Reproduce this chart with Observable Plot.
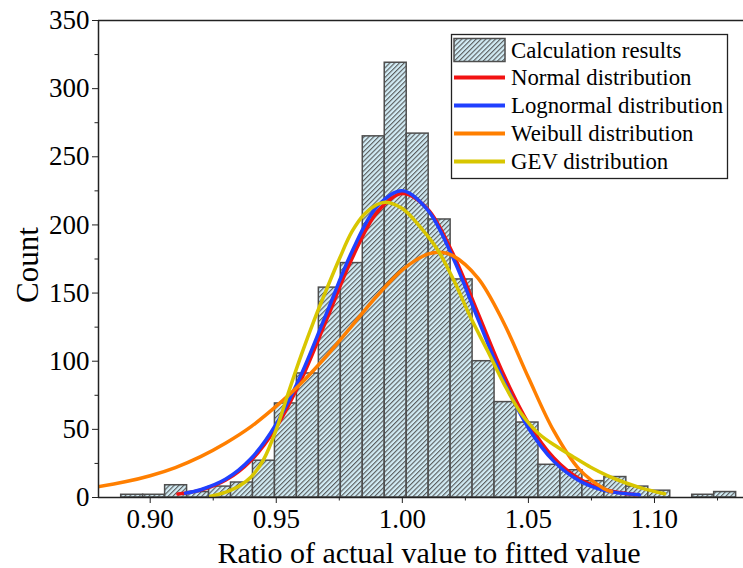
<!DOCTYPE html>
<html><head><meta charset="utf-8">
<script src="https://cdn.jsdelivr.net/npm/d3@7"></script>
<script src="https://cdn.jsdelivr.net/npm/@observablehq/plot@0.6"></script>
<style>body{margin:0;background:#fff} #chart{width:743px;height:568px}</style>
</head><body><div id="chart"></div>
<script>
// Histogram bins (edges) and counts
const binEdges = [0.88850,0.89721,0.90592,0.91463,0.92334,0.93205,0.94076,0.94947,0.95818,0.96689,0.97560,0.98431,0.99302,1.00173,1.01044,1.01915,1.02786,1.03657,1.04528,1.05399,1.06270,1.07141,1.08012,1.08883,1.09754,1.10625,1.11496,1.12367,1.13238];
const counts = [2,2,9,4,8,11,27,69,91,154,172,265,319,267,204,160,100,70,55,24,20,12,15,8,5,0,2,4];

// Fitted curves
const normalX = [0.911,0.92,0.93,0.94,0.95,0.96,0.97,0.98,0.99,1.00,1.01,1.02,1.03,1.04,1.05,1.06,1.07,1.08,1.093];
const normalY = [2.6,5.4,12.8,27.2,51.5,86.9,130.7,175.2,209.3,223,211.7,179.2,135.3,91.0,54.6,29.2,13.9,5.9,2.0];
const lognormalX = [0.914,0.92,0.93,0.94,0.95,0.96,0.97,0.98,0.99,1.00,1.01,1.02,1.03,1.04,1.05,1.06,1.07,1.08,1.094];
const lognormalY = [3.2,5.7,13.5,28.6,54,90.7,135.5,180.3,213.5,225,211,176.2,130.9,86.6,51,26.7,12.5,5.2,2.0];
const weibullX = [0.879,0.89,0.90,0.91,0.92,0.93,0.94,0.95,0.96,0.97,0.98,0.99,1.00,1.01,1.015,1.02,1.03,1.04,1.05,1.06,1.07,1.08,1.083];
const weibullY = [7.8,11.5,16,22,30,40,52,67,84,104,126,148,167,178.5,180,177.5,161,129,88,49,21,6.5,4.2];
const gevX = [0.924,0.93,0.935,0.94,0.945,0.95,0.955,0.96,0.965,0.97,0.975,0.98,0.985,0.99,0.9934,1.00,1.0073,1.0139,1.0205,1.0271,1.0337,1.0403,1.047,1.054,1.0615,1.068,1.0747,1.0813,1.0879,1.0946,1.104];
const gevY = [1,4,8,15,28,50,78,105,130,153,175,195,208,215,216.7,212,198,182,159,132,108,83.4,62,47,37,29.6,22.2,16.1,11.2,7.1,2.7];

const seriesNames = ["Normal distribution","Lognormal distribution","Weibull distribution","GEV distribution"];
const seriesColors = ["#f21212","#2040ff","#ff7f00","#d8c600"];
const histName = "Calculation results";

const xMajor = [0.90,0.95,1.00,1.05,1.10];
const xMinor = [0.925,0.975,1.025,1.075,1.125];
const yMajor = [0,50,100,150,200,250,300,350];
const yMinor = [25,75,125,175,225,275,325];
const xTitle = "Ratio of actual value to fitted value";
const yTitle = "Count";

const bars = counts.map((c,i)=>({x1: binEdges[i], x2: binEdges[i+1], y: c})).filter(d=>d.y>0);
const curves = [];
[[normalX,normalY],[lognormalX,lognormalY],[weibullX,weibullY],[gevX,gevY]].forEach(([xs,ys],k)=>{
  xs.forEach((x,i)=>curves.push({series: seriesNames[k], x, y: ys[i]}));
});

const X0 = 0.8795, X1 = 1.1353;
const font = "'Liberation Serif','Times New Roman',serif";

const chart = Plot.plot({
  width: 743, height: 568,
  marginLeft: 98, marginRight: 0, marginTop: 20, marginBottom: 71,
  style: {fontFamily: font, fontSize: "28px", color: "#000", background: "#fff", overflow: "visible"},
  x: {domain: [X0, X1], label: null},
  y: {domain: [0, 350], label: null},
  color: {domain: seriesNames, range: seriesColors},
  marks: [
    Plot.rect(bars, {x1: "x1", x2: "x2", y1: () => 0, y2: "y", fill: "url(#hatch)", stroke: "#4e4e4e", strokeWidth: 1.5}),
    Plot.line(curves, {x: "x", y: "y", z: "series", stroke: "series", strokeWidth: 3.5, curve: "catmull-rom", clip: true}),
    Plot.ruleY([0], {stroke: "#222", strokeWidth: 1.5}),
    Plot.ruleY([350], {stroke: "#222", strokeWidth: 1.5}),
    Plot.ruleX([X0], {stroke: "#222", strokeWidth: 1.5}),
    Plot.axisX(xMajor, {tickSize: 6, tickPadding: 5, tickFormat: d3.format(".2f"), fontSize: 27, label: null, stroke: "#222"}),
    Plot.axisX(xMinor, {tickSize: 3.5, tickFormat: () => "", label: null, stroke: "#222"}),
    Plot.axisY(yMajor, {tickSize: 6, tickPadding: 3, fontSize: 27, label: null, stroke: "#222"}),
    Plot.axisY(yMinor, {tickSize: 3.5, tickFormat: () => "", label: null, stroke: "#222"})
  ]
});

const svg = d3.select(chart);
const defs = svg.insert("defs", ":first-child");
const pat = defs.append("pattern").attr("id", "hatch").attr("patternUnits", "userSpaceOnUse")
  .attr("width", 3.4).attr("height", 3.4).attr("patternTransform", "rotate(45)");
pat.append("rect").attr("width", 3.4).attr("height", 3.4).attr("fill", "#d2ecf5");
pat.append("line").attr("x1", 0.6).attr("y1", 0).attr("x2", 0.6).attr("y2", 3.4).attr("stroke", "#4a4a4a").attr("stroke-width", 1);

// Axis titles
svg.append("text").attr("x", 429).attr("y", 552).attr("text-anchor", "middle").attr("dominant-baseline", "central")
  .attr("font-family", font).attr("font-size", 30).attr("fill", "#000").text(xTitle);
svg.append("text").attr("transform", "translate(27,265) rotate(-90)").attr("text-anchor", "middle").attr("dominant-baseline", "central")
  .attr("font-family", font).attr("font-size", 31).attr("fill", "#000").text(yTitle);

// Legend
const lg = svg.append("g").attr("font-family", font).attr("font-size", 22.8).attr("text-anchor", "start");
lg.append("rect").attr("x", 451.5).attr("y", 34.5).attr("width", 276).attr("height", 144).attr("fill", "#fff").attr("stroke", "#222").attr("stroke-width", 1.3);
lg.append("rect").attr("x", 454).attr("y", 38.5).attr("width", 51).attr("height", 23).attr("fill", "url(#hatch)").attr("stroke", "#4e4e4e").attr("stroke-width", 1.5);
lg.append("text").attr("x", 511).attr("y", 50).attr("text-anchor", "start").attr("dominant-baseline", "central").attr("fill", "#000").text(histName);
const rowsY = [77.5, 105.5, 133.5, 161.5];
seriesNames.forEach((n, i) => {
  lg.append("line").attr("x1", 454).attr("x2", 505).attr("y1", rowsY[i]).attr("y2", rowsY[i]).attr("stroke", seriesColors[i]).attr("stroke-width", 4);
  lg.append("text").attr("x", 511).attr("y", rowsY[i]).attr("text-anchor", "start").attr("dominant-baseline", "central").attr("fill", "#000").text(n);
});

document.getElementById("chart").appendChild(chart);
</script></body></html>
